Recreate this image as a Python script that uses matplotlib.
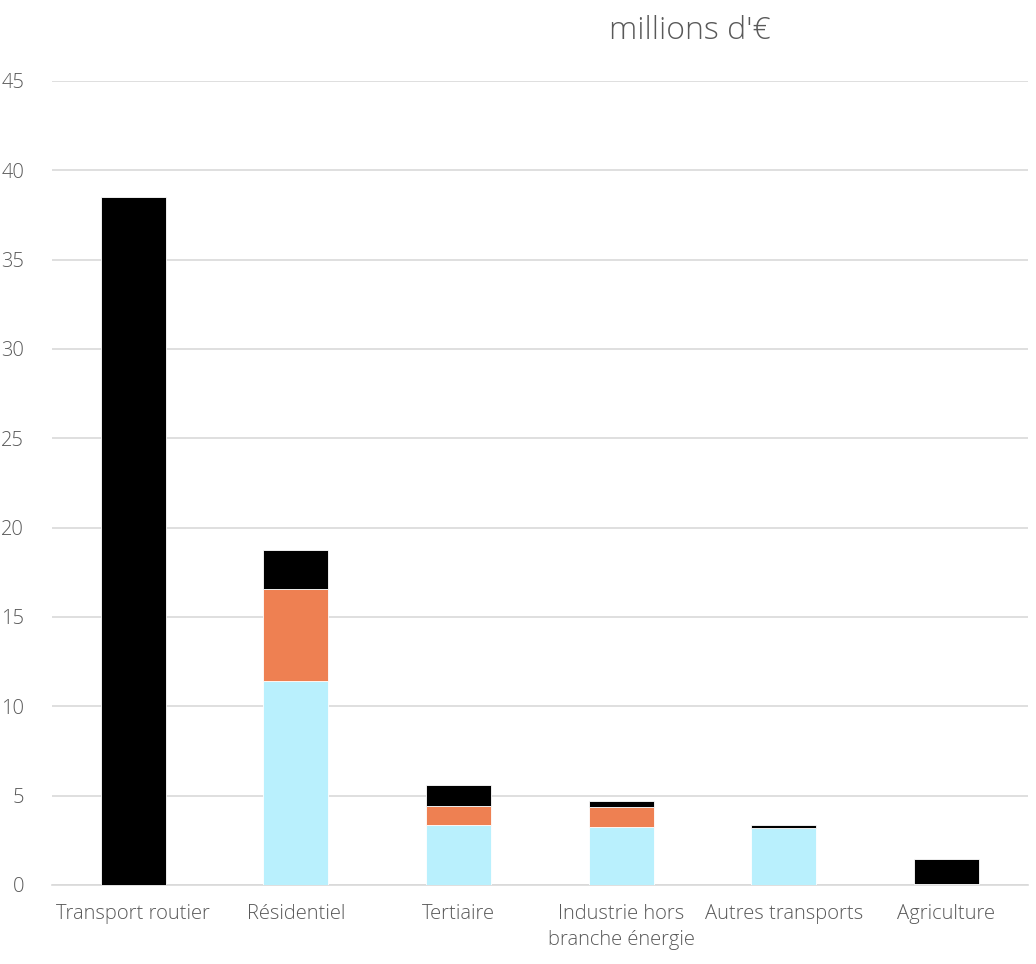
import numpy as np
import matplotlib
matplotlib.use("Agg")
import matplotlib.pyplot as plt

categories = ["Transport routier", "Résidentiel", "Tertiaire",
              "Industrie hors\nbranche énergie", "Autres transports", "Agriculture"]
electricite = [0.0, 11.42, 3.38, 3.27, 3.2, 0.06]
gaz = [0.0, 5.15, 1.05, 1.1, 0.0, 0.0]
petrole = [38.5, 2.18, 1.17, 0.31, 0.14, 1.39]

colors = ["#B9F0FD", "#EE8052", "#000000"]
TXT = "#595959"

plt.rcParams["font.family"] = ["Open Sans", "DejaVu Sans"]
plt.rcParams["font.weight"] = "light"

fig = plt.figure(figsize=(10.36, 9.64), dpi=100)
ax = fig.add_axes([0.05, 0.082, 0.942, 0.834])

x = np.arange(len(categories))
bottom = np.zeros(len(categories))
for vals, col in zip([electricite, gaz, petrole], colors):
    vals = np.array(vals)
    ax.bar(x, vals, width=0.4, bottom=bottom, color=col,
           edgecolor="white", linewidth=0.6, zorder=3)
    bottom += vals

ax.set_xlim(-0.5, 5.5)
ax.set_ylim(0, 45)
ax.set_yticks(np.arange(0, 46, 5))
ax.grid(axis="y", color="#D9D9D9", linewidth=1.2, zorder=0)
ax.set_xticks(x)
ax.set_xticklabels(categories, fontsize=14.5, color=TXT, linespacing=1.35)
ax.tick_params(axis="y", labelsize=14.5, labelcolor=TXT, length=0, pad=20)
ax.tick_params(axis="x", length=0, pad=14)
for s in ["left", "right", "top"]:
    ax.spines[s].set_visible(False)
ax.spines["bottom"].set_color("#D9D9D9")
ax.spines["bottom"].set_linewidth(1.2)

fig.text(0.666, 0.968, "millions d'€", ha="center", va="center",
         fontsize=23, color=TXT)

fig.savefig("out.png", dpi=100)
